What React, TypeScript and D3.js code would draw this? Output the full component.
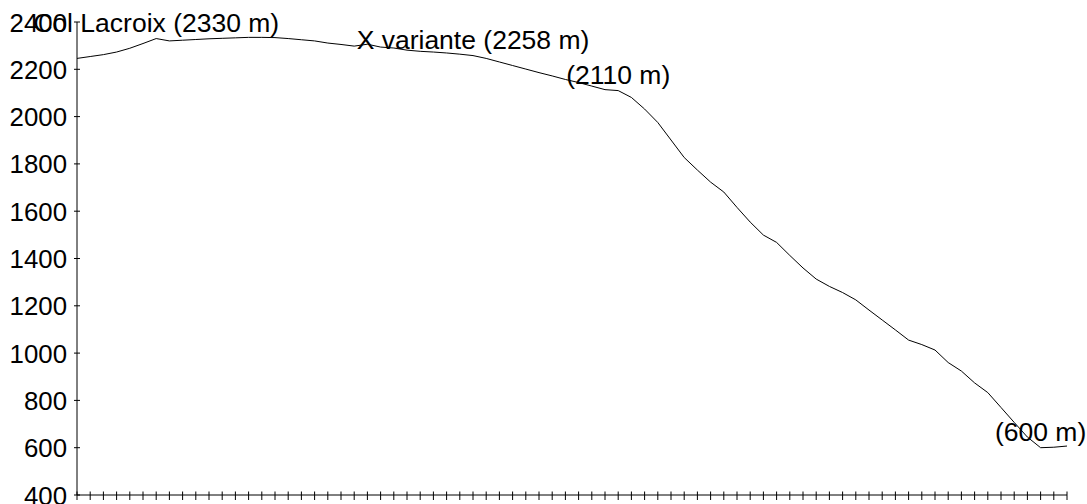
import React from "react";
import * as d3 from "d3";

const elevations: number[] = [
  2246, 2254, 2262, 2273, 2289, 2309, 2330, 2320, 2323, 2326,
  2329, 2331, 2333, 2335, 2335, 2334, 2330, 2325, 2320, 2311,
  2305, 2298, 2306, 2294, 2290, 2281, 2276, 2273, 2269, 2264,
  2258, 2246, 2231, 2216, 2201, 2186, 2172, 2157, 2144, 2129,
  2114, 2110, 2081, 2032, 1975, 1901, 1827, 1774, 1723, 1681,
  1616, 1554, 1499, 1468, 1413, 1360, 1313, 1282, 1256, 1225,
  1182, 1140, 1098, 1055, 1036, 1013, 960, 924, 874, 833,
  770, 707, 645, 600, 602, 607,
];

const labelIndices: number[] = [6, 30, 41, 73];
const labelTexts: string[] = [
  "Col Lacroix (2330 m)",
  "X variante (2258 m)",
  "(2110 m)",
  "(600 m)",
];

const yTicks: number[] = [400, 600, 800, 1000, 1200, 1400, 1600, 1800, 2000, 2200, 2400];

const W = 1087;
const H = 504;
const FONT = "'Liberation Sans', Arial, sans-serif";
const FS = 26.5;
const TICK_FS = 25.8;

export default function App() {
  const x = d3.scaleLinear().domain([0, elevations.length - 1]).range([77, 1067]);
  const y = d3.scaleLinear().domain([400, 2400]).range([495, 22]);
  const line = d3
    .line<number>()
    .x((_, i) => x(i))
    .y((d) => y(d));
  const xTicks = d3.range(elevations.length);

  return (
    <svg
      width={W}
      height={H}
      style={{ position: "absolute", left: 0, top: 0, background: "#fff" }}
      fontFamily={FONT}
    >
      {/* y axis */}
      <line x1={x(0)} x2={x(0)} y1={y(2400)} y2={y(400)} stroke="#000" strokeWidth={1} />
      {yTicks.map((t) => (
        <g key={t}>
          <line x1={x(0) - 3} x2={x(0) + 3} y1={y(t)} y2={y(t)} stroke="#000" strokeWidth={1} />
          <text
            x={x(0) - 10}
            y={y(t)}
            dy="0.37em"
            textAnchor="end"
            fontSize={TICK_FS}
            fill="#000"
          >
            {t}
          </text>
        </g>
      ))}
      {/* x axis */}
      <line x1={x(0)} x2={x(elevations.length - 1)} y1={y(400)} y2={y(400)} stroke="#000" strokeWidth={1} />
      {xTicks.map((i) => (
        <line key={i} x1={x(i)} x2={x(i)} y1={y(400) - 3.5} y2={y(400) + 5} stroke="#000" strokeWidth={1} />
      ))}
      {/* profile */}
      <path d={line(elevations) || ""} fill="none" stroke="#000" strokeWidth={1} />
      {/* data labels */}
      {labelIndices.map((idx, k) => (
        <text
          key={k}
          x={x(idx)}
          y={y(elevations[idx]) - 7}
          textAnchor="middle"
          fontSize={FS}
          fill="#000"
        >
          {labelTexts[k]}
        </text>
      ))}
    </svg>
  );
}
